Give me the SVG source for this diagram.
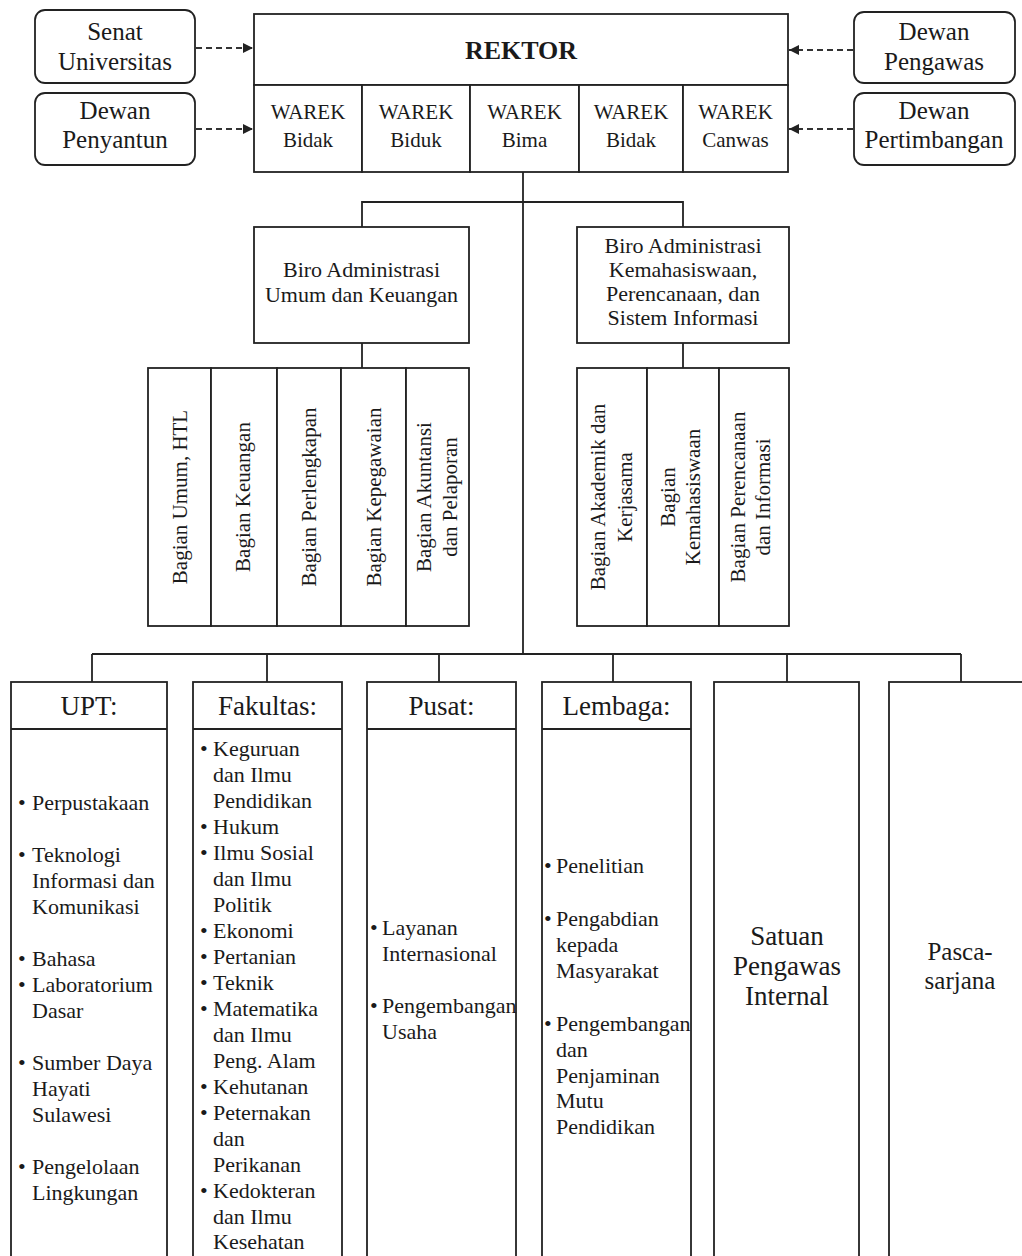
<svg xmlns="http://www.w3.org/2000/svg" width="1022" height="1256" viewBox="0 0 1022 1256">
<style>
  .box{fill:#fff;stroke:#222;stroke-width:1.8}
  .ln{fill:none;stroke:#222;stroke-width:1.8}
  .dash{fill:none;stroke:#333;stroke-width:1.8;stroke-dasharray:6 4}
  text{font-family:"Liberation Serif","Times New Roman",serif;fill:#1a1a1a}
  .c{text-anchor:middle}
  .t25{font-size:25px}
  .t21{font-size:21px}
  .t22{font-size:22px}
  .t27{font-size:27px}
  .v{font-size:21px;text-anchor:middle}
</style>
<defs>
  <marker id="arr" markerUnits="userSpaceOnUse" markerWidth="10" markerHeight="10" refX="10" refY="5" orient="auto">
    <path d="M0,0 L10,5 L0,10 z" fill="#222"/>
  </marker>
</defs>
<rect width="1022" height="1256" fill="#fff"/>

<g id="connectors">
  <line class="dash" x1="196" y1="48" x2="253" y2="48" marker-end="url(#arr)"/>
  <line class="dash" x1="196" y1="129" x2="253" y2="129" marker-end="url(#arr)"/>
  <line class="dash" x1="853" y1="50" x2="789" y2="50" marker-end="url(#arr)"/>
  <line class="dash" x1="853" y1="129" x2="789" y2="129" marker-end="url(#arr)"/>
  <line class="ln" x1="523" y1="172" x2="523" y2="654"/>
  <polyline class="ln" points="362,227 362,202 683,202 683,227"/>
  <line class="ln" x1="362" y1="343" x2="362" y2="368"/>
  <line class="ln" x1="683" y1="343" x2="683" y2="368"/>
  <line class="ln" x1="92" y1="654" x2="961" y2="654"/>
  <line class="ln" x1="92" y1="654" x2="92" y2="682"/>
  <line class="ln" x1="267" y1="654" x2="267" y2="682"/>
  <line class="ln" x1="439" y1="654" x2="439" y2="682"/>
  <line class="ln" x1="613" y1="654" x2="613" y2="682"/>
  <line class="ln" x1="787" y1="654" x2="787" y2="682"/>
  <line class="ln" x1="961" y1="654" x2="961" y2="682"/>
</g>

<g id="senat">
  <rect class="box" x="35" y="10" width="160" height="73" rx="10"/>
  <text class="c t25" x="115" y="40">Senat</text>
  <text class="c t25" x="115" y="70">Universitas</text>
</g>
<g id="dewan-penyantun">
  <rect class="box" x="35" y="93" width="160" height="72" rx="10"/>
  <text class="c t25" x="115" y="119">Dewan</text>
  <text class="c t25" x="115" y="148">Penyantun</text>
</g>
<g id="dewan-pengawas">
  <rect class="box" x="854" y="12" width="161" height="71" rx="10"/>
  <text class="c t25" x="934" y="40">Dewan</text>
  <text class="c t25" x="934" y="70">Pengawas</text>
</g>
<g id="dewan-pertimbangan">
  <rect class="box" x="854" y="93" width="161" height="72" rx="10"/>
  <text class="c t25" x="934" y="119">Dewan</text>
  <text class="c t25" x="934" y="148">Pertimbangan</text>
</g>

<g id="rektor">
  <rect class="box" x="254" y="14" width="534" height="71"/>
  <text class="c" x="521" y="59" style="font-size:26px;font-weight:bold">REKTOR</text>
</g>
<g id="warek1">
  <rect class="box" x="254" y="85" width="108" height="87"/>
  <text class="c t21" x="308" y="119">WAREK</text>
  <text class="c t21" x="308" y="147">Bidak</text>
</g>
<g id="warek2">
  <rect class="box" x="362" y="85" width="108" height="87"/>
  <text class="c t21" x="416" y="119">WAREK</text>
  <text class="c t21" x="416" y="147">Biduk</text>
</g>
<g id="warek3">
  <rect class="box" x="470" y="85" width="109" height="87"/>
  <text class="c t21" x="524.5" y="119">WAREK</text>
  <text class="c t21" x="524.5" y="147">Bima</text>
</g>
<g id="warek4">
  <rect class="box" x="579" y="85" width="104" height="87"/>
  <text class="c t21" x="631" y="119">WAREK</text>
  <text class="c t21" x="631" y="147">Bidak</text>
</g>
<g id="warek5">
  <rect class="box" x="683" y="85" width="105" height="87"/>
  <text class="c t21" x="735.5" y="119">WAREK</text>
  <text class="c t21" x="735.5" y="147">Canwas</text>
</g>

<g id="biro-umum">
  <rect class="box" x="254" y="227" width="215" height="116"/>
  <text class="c t22" x="361.5" y="277">Biro Administrasi</text>
  <text class="c t22" x="361.5" y="302">Umum dan Keuangan</text>
</g>
<g id="biro-kemahasiswaan">
  <rect class="box" x="577" y="227" width="212" height="116"/>
  <text class="c t22" x="683" y="253">Biro Administrasi</text>
  <text class="c t22" x="683" y="277">Kemahasiswaan,</text>
  <text class="c t22" x="683" y="301">Perencanaan, dan</text>
  <text class="c t22" x="683" y="325">Sistem Informasi</text>
</g>

<g id="bagian-umum">
  <rect class="box" x="148" y="368" width="63" height="258"/>
  <text class="v" transform="translate(179.5,497) rotate(-90)" x="0" y="7">Bagian Umum, HTL</text>
</g>
<g id="bagian-keuangan">
  <rect class="box" x="211" y="368" width="66" height="258"/>
  <text class="v" transform="translate(243,497) rotate(-90)" x="0" y="7">Bagian Keuangan</text>
</g>
<g id="bagian-perlengkapan">
  <rect class="box" x="277" y="368" width="64" height="258"/>
  <text class="v" transform="translate(309,497) rotate(-90)" x="0" y="7">Bagian Perlengkapan</text>
</g>
<g id="bagian-kepegawaian">
  <rect class="box" x="341" y="368" width="65" height="258"/>
  <text class="v" transform="translate(373.5,497) rotate(-90)" x="0" y="7">Bagian Kepegawaian</text>
</g>
<g id="bagian-akuntansi">
  <rect class="box" x="406" y="368" width="63" height="258"/>
  <text class="v" transform="translate(437.5,497) rotate(-90)" x="0" y="-6.5">Bagian Akuntansi</text>
  <text class="v" transform="translate(437.5,497) rotate(-90)" x="0" y="19.5">dan Pelaporan</text>
</g>
<g id="bagian-akademik">
  <rect class="box" x="577" y="368" width="70" height="258"/>
  <text class="v" transform="translate(612,497) rotate(-90)" x="0" y="-7">Bagian Akademik dan</text>
  <text class="v" transform="translate(612,497) rotate(-90)" x="0" y="20">Kerjasama</text>
</g>
<g id="bagian-kemahasiswaan">
  <rect class="box" x="647" y="368" width="72" height="258"/>
  <text class="v" transform="translate(683,497) rotate(-90)" x="0" y="-8">Bagian</text>
  <text class="v" transform="translate(683,497) rotate(-90)" x="0" y="17">Kemahasiswaan</text>
</g>
<g id="bagian-perencanaan">
  <rect class="box" x="719" y="368" width="70" height="258"/>
  <text class="v" transform="translate(754,497) rotate(-90)" x="0" y="-9">Bagian Perencanaan</text>
  <text class="v" transform="translate(754,497) rotate(-90)" x="0" y="16">dan Informasi</text>
</g>

<g id="upt">
  <rect class="box" x="11" y="682" width="156" height="600"/>
  <line class="ln" x1="11" y1="729" x2="167" y2="729"/>
  <text class="c t27" x="89" y="715">UPT:</text>
  <g class="t22">
    <text x="18" y="810">•</text><text x="32" y="810">Perpustakaan</text>
    <text x="18" y="862">•</text><text x="32" y="862">Teknologi</text>
    <text x="32" y="888">Informasi dan</text>
    <text x="32" y="914">Komunikasi</text>
    <text x="18" y="966">•</text><text x="32" y="966">Bahasa</text>
    <text x="18" y="992">•</text><text x="32" y="992">Laboratorium</text>
    <text x="32" y="1018">Dasar</text>
    <text x="18" y="1070">•</text><text x="32" y="1070">Sumber Daya</text>
    <text x="32" y="1096">Hayati</text>
    <text x="32" y="1122">Sulawesi</text>
    <text x="18" y="1174">•</text><text x="32" y="1174">Pengelolaan</text>
    <text x="32" y="1200">Lingkungan</text>
  </g>
</g>

<g id="fakultas">
  <rect class="box" x="193" y="682" width="149" height="600"/>
  <line class="ln" x1="193" y1="729" x2="342" y2="729"/>
  <text class="c t27" x="267.5" y="715">Fakultas:</text>
  <g class="t22">
    <text x="200" y="756">•</text><text x="213" y="756">Keguruan</text>
    <text x="213" y="782">dan Ilmu</text>
    <text x="213" y="808">Pendidikan</text>
    <text x="200" y="834">•</text><text x="213" y="834">Hukum</text>
    <text x="200" y="860">•</text><text x="213" y="860">Ilmu Sosial</text>
    <text x="213" y="886">dan Ilmu</text>
    <text x="213" y="912">Politik</text>
    <text x="200" y="938">•</text><text x="213" y="938">Ekonomi</text>
    <text x="200" y="964">•</text><text x="213" y="964">Pertanian</text>
    <text x="200" y="990">•</text><text x="213" y="990">Teknik</text>
    <text x="200" y="1016">•</text><text x="213" y="1016">Matematika</text>
    <text x="213" y="1042">dan Ilmu</text>
    <text x="213" y="1068">Peng. Alam</text>
    <text x="200" y="1094">•</text><text x="213" y="1094">Kehutanan</text>
    <text x="200" y="1120">•</text><text x="213" y="1120">Peternakan</text>
    <text x="213" y="1146">dan</text>
    <text x="213" y="1172">Perikanan</text>
    <text x="200" y="1198">•</text><text x="213" y="1198">Kedokteran</text>
    <text x="213" y="1224">dan Ilmu</text>
    <text x="213" y="1249">Kesehatan</text>
  </g>
</g>

<g id="pusat">
  <rect class="box" x="367" y="682" width="149" height="600"/>
  <line class="ln" x1="367" y1="729" x2="516" y2="729"/>
  <text class="c t27" x="441.5" y="715">Pusat:</text>
  <g class="t22">
    <text x="370" y="935">•</text><text x="382" y="935">Layanan</text>
    <text x="382" y="961">Internasional</text>
    <text x="370" y="1013">•</text><text x="382" y="1013">Pengembangan</text>
    <text x="382" y="1039">Usaha</text>
  </g>
</g>

<g id="lembaga">
  <rect class="box" x="542" y="682" width="149" height="600"/>
  <line class="ln" x1="542" y1="729" x2="691" y2="729"/>
  <text class="c t27" x="616.5" y="715">Lembaga:</text>
  <g class="t22">
    <text x="544" y="873">•</text><text x="556" y="873">Penelitian</text>
    <text x="544" y="926">•</text><text x="556" y="926">Pengabdian</text>
    <text x="556" y="952">kepada</text>
    <text x="556" y="978">Masyarakat</text>
    <text x="544" y="1031">•</text><text x="556" y="1031">Pengembangan</text>
    <text x="556" y="1057">dan</text>
    <text x="556" y="1083">Penjaminan</text>
    <text x="556" y="1108">Mutu</text>
    <text x="556" y="1134">Pendidikan</text>
  </g>
</g>

<g id="spi">
  <rect class="box" x="714" y="682" width="145" height="600"/>
  <text class="c t27" x="787" y="945">Satuan</text>
  <text class="c t27" x="787" y="975">Pengawas</text>
  <text class="c t27" x="787" y="1005">Internal</text>
</g>

<g id="pascasarjana">
  <rect class="box" x="889" y="682" width="150" height="600"/>
  <text class="c" x="960" y="960" style="font-size:25px">Pasca-</text>
  <text class="c" x="960" y="989" style="font-size:25px">sarjana</text>
</g>
</svg>
